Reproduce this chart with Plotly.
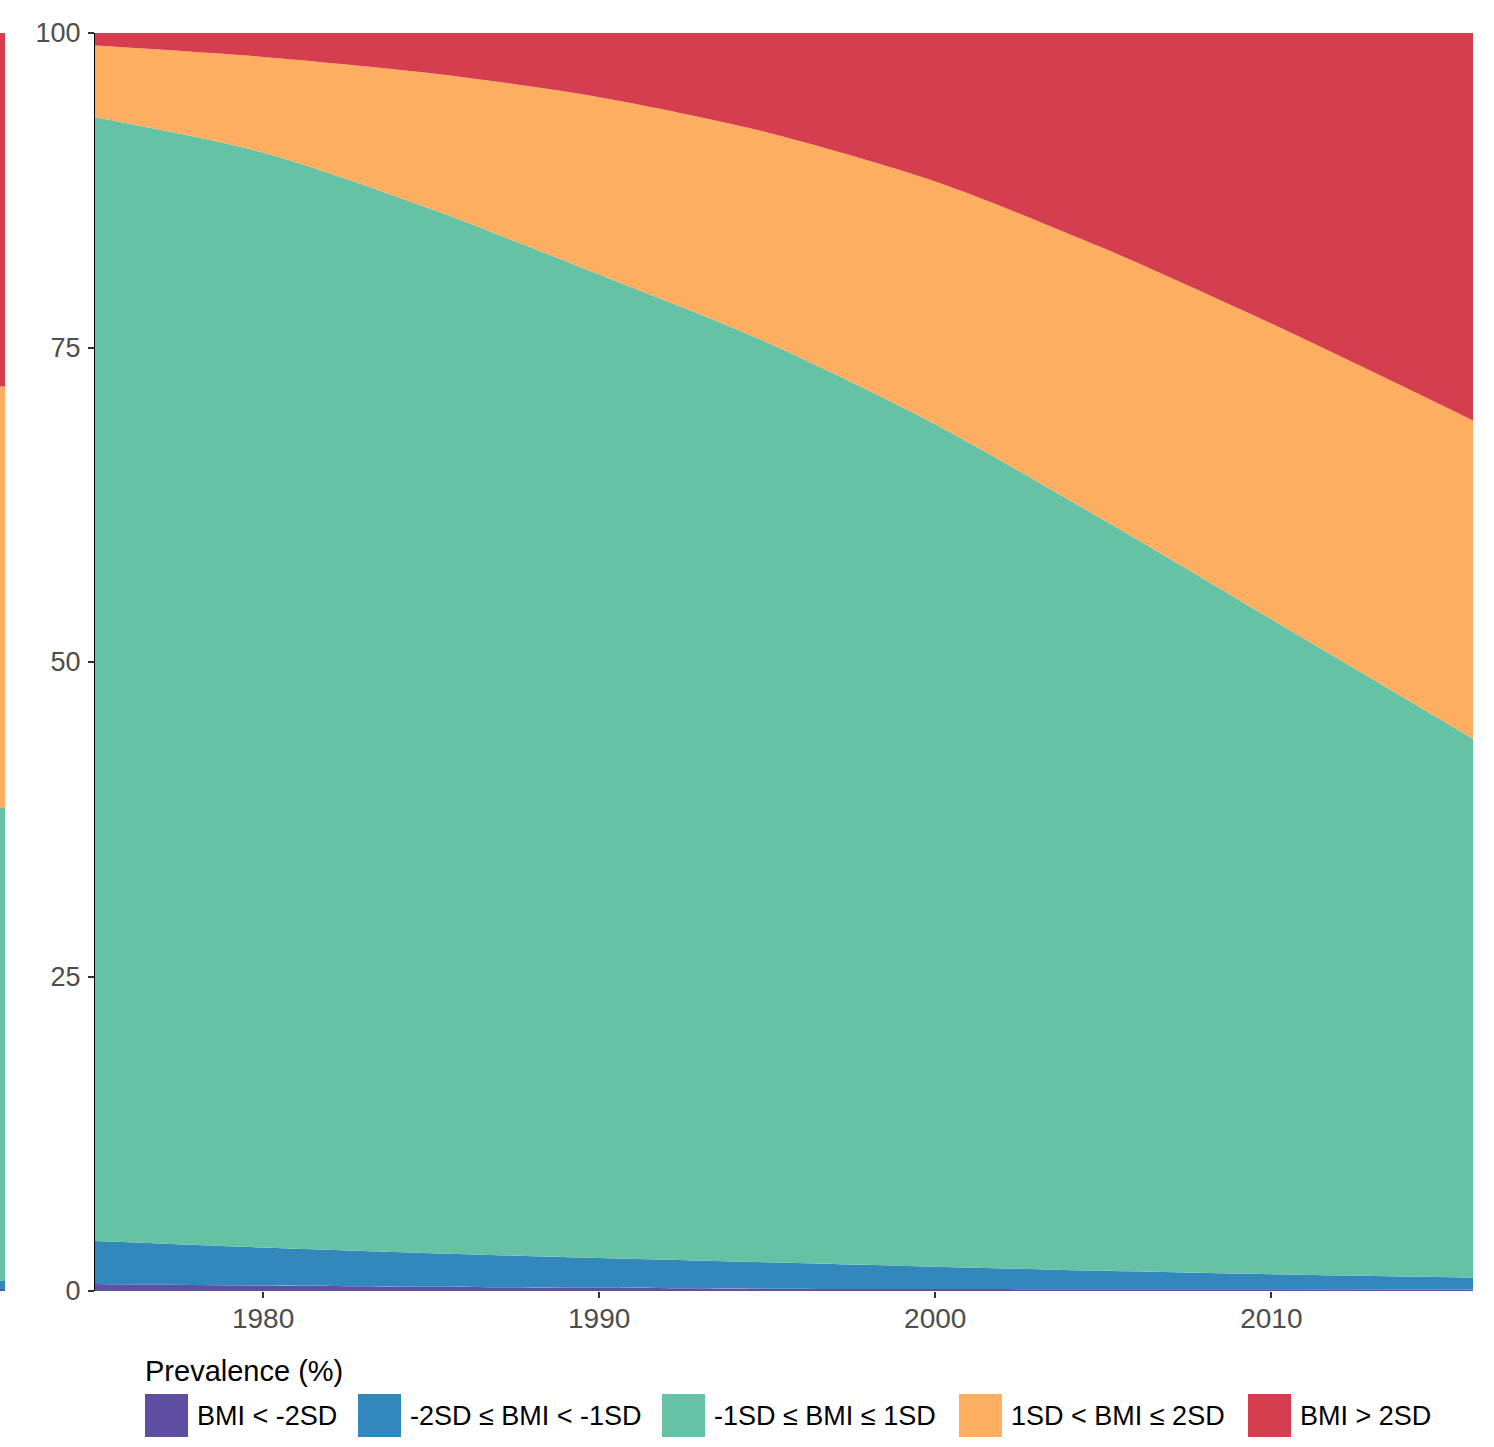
import plotly.graph_objects as go

# ── data ───────────────────────────────────────────────────────────────────────
YEARS = [1975, 1980, 1985, 1990, 1995, 2000, 2005, 2010, 2016]
CATEGORIES = ["BMI < -2SD", "-2SD ≤ BMI < -1SD", "-1SD ≤ BMI ≤ 1SD",
              "1SD < BMI ≤ 2SD", "BMI > 2SD"]
BMI_LT_M2 = [0.56, 0.44, 0.34, 0.25, 0.18, 0.15, 0.14, 0.13, 0.12]
BMI_M2_M1 = [3.41, 3.01, 2.66, 2.37, 2.10, 1.78, 1.46, 1.20, 0.94]
BMI_M1_P1 = [89.33, 87.05, 83.00, 78.18, 73.12, 66.97, 59.70, 52.07, 42.84]
BMI_P1_P2 = [5.70, 7.60, 10.80, 14.10, 16.70, 19.30, 21.60, 23.50, 25.30]
BMI_GT_P2 = [1.00, 1.90, 3.20, 5.10, 7.90, 11.80, 17.10, 23.10, 30.80]
SERIES = [BMI_LT_M2, BMI_M2_M1, BMI_M1_P1, BMI_P1_P2, BMI_GT_P2]

# right edge of the neighbouring facet that is cut off at the left border
STRIP_YEARS = [2015, 2016]
STRIP_VALUES = [0.16, 0.64, 37.6, 33.5, 28.1]

Y_TICKS = [0, 25, 50, 75, 100]
X_TICKS = [1980, 1990, 2000, 2010]

COLORS = ["#5E4FA2", "#3288BD", "#66C2A5", "#FDAE61", "#D53E4F"]

# ── geometry (pixels) ──────────────────────────────────────────────────────────
W, H = 1494, 1447
M_L, M_R, M_T, M_B = 0, 21, 33, 156
PW, PH = W - M_L - M_R, H - M_T - M_B
FONT = "Liberation Sans, Arial, Helvetica, sans-serif"


def px(x):
    return (x - M_L) / PW


def py(y):
    return (H - M_B - y) / PH


fig = go.Figure()

for name, vals, col in zip(CATEGORIES, SERIES, COLORS):
    fig.add_trace(go.Scatter(
        x=YEARS, y=vals, name=name, stackgroup="main", mode="lines",
        line=dict(width=0, shape="spline", smoothing=0.8, color=col),
        fillcolor=col, showlegend=False, hoverinfo="x+y+name",
    ))

for name, v, col in zip(CATEGORIES, STRIP_VALUES, COLORS):
    fig.add_trace(go.Scatter(
        x=STRIP_YEARS, y=[v, v], name=name, stackgroup="strip", mode="lines",
        line=dict(width=0, color=col), fillcolor=col, showlegend=False,
        xaxis="x2", yaxis="y2", hoverinfo="skip",
    ))

# ── manual legend (big square keys like ggplot) ────────────────────────────────
KEY_X = [145, 358, 662, 959, 1248]
KEY = 43
KEY_TOP = 1394
shapes, annos = [], []
for name, col, kx in zip(CATEGORIES, COLORS, KEY_X):
    shapes.append(dict(type="rect", xref="paper", yref="paper",
                       x0=px(kx), x1=px(kx + KEY), y0=py(KEY_TOP + KEY), y1=py(KEY_TOP),
                       fillcolor=col, line=dict(width=0)))
    annos.append(dict(xref="paper", yref="paper", x=px(kx + KEY + 7),
                      y=py(KEY_TOP + KEY / 2), text=name, showarrow=False,
                      xanchor="left", yanchor="middle",
                      font=dict(family=FONT, size=27, color="#000000")))
annos.append(dict(xref="paper", yref="paper", x=px(143), y=py(1371),
                  text="Prevalence (%)", showarrow=False,
                  xanchor="left", yanchor="middle",
                  font=dict(family=FONT, size=29, color="#000000")))

fig.update_layout(
    width=W, height=H,
    margin=dict(l=M_L, r=M_R, t=M_T, b=M_B),
    paper_bgcolor="white", plot_bgcolor="white",
    showlegend=False,
    shapes=shapes, annotations=annos,
    xaxis=dict(domain=[px(95), 1], range=[1975, 2016], tickvals=X_TICKS,
               showgrid=False, zeroline=False, showline=False,
               ticks="outside", ticklen=6, tickwidth=2, tickcolor="#333333",
               ticklabelstandoff=-4,
               tickfont=dict(family=FONT, size=28, color="#4D4D4D")),
    yaxis=dict(anchor="x", range=[0, 100], tickvals=Y_TICKS,
               showgrid=False, zeroline=False, showline=True,
               linecolor="#000000", linewidth=1,
               ticks="outside", ticklen=6, tickwidth=2, tickcolor="#333333",
               ticklabelstandoff=2,
               tickfont=dict(family=FONT, size=27, color="#4D4D4D")),
    xaxis2=dict(domain=[0, px(5)], range=[2015, 2016], visible=False),
    yaxis2=dict(anchor="x2", range=[0, 100], visible=False),
)

fig.write_html("out.html", config={"displayModeBar": False},
               post_script="document.body.style.margin='0';")
